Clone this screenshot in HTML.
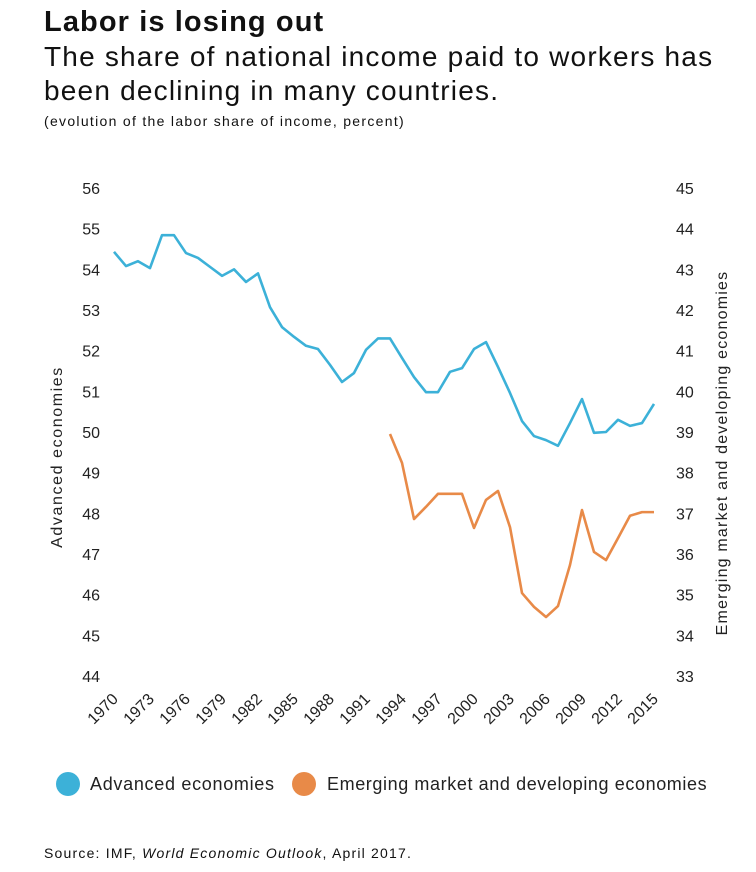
<!DOCTYPE html>
<html><head><meta charset="utf-8"><style>
body{margin:0;background:#fff;width:756px;height:872px;overflow:hidden;font-family:"Liberation Sans",sans-serif;color:#111}
.t{position:absolute;white-space:nowrap}
</style></head><body>
<div class="t" style="left:44px;top:6px;font-size:29px;font-weight:bold;letter-spacing:1.1px">Labor is losing out</div>
<div class="t" style="left:44px;top:40px;font-size:28px;line-height:34px;letter-spacing:1.2px">The share of national income paid to workers has<br>been declining in many countries.</div>
<div class="t" style="left:44px;top:113px;font-size:14px;letter-spacing:1.3px">(evolution of the labor share of income, percent)</div>
<svg id="chart" style="position:absolute;left:0;top:0" width="756" height="872"></svg>
<div class="t" style="left:44px;top:845px;font-size:14px;letter-spacing:1.2px">Source: IMF, <i>World Economic Outlook</i>, April 2017.</div>
<script>
const years=[];for(let y=1970;y<=2015;y++)years.push(y);
const advanced=[54.43,54.08,54.2,54.03,54.84,54.84,54.4,54.28,54.06,53.84,54.0,53.69,53.9,53.07,52.58,52.34,52.12,52.04,51.65,51.23,51.45,52.02,52.3,52.3,51.82,51.35,50.98,50.98,51.48,51.57,52.04,52.21,51.6,50.96,50.27,49.9,49.8,49.66,50.22,50.81,49.98,50.0,50.3,50.15,50.22,50.69];
const emergingYears=[1993,1994,1995,1996,1997,1998,1999,2000,2001,2002,2003,2004,2005,2006,2007,2008,2009,2010,2011,2012,2013,2014,2015];
const emerging=[38.95,38.24,36.86,37.16,37.48,37.48,37.48,36.64,37.33,37.55,36.66,35.04,34.7,34.45,34.72,35.73,37.08,36.05,35.85,36.39,36.94,37.03,37.03];
const leftTicks=[44,45,46,47,48,49,50,51,52,53,54,55,56];
const rightTicks=[33,34,35,36,37,38,39,40,41,42,43,44,45];
const xTickLabels=[1970,1973,1976,1979,1982,1985,1988,1991,1994,1997,2000,2003,2006,2009,2012,2015];
const NS="http://www.w3.org/2000/svg";
const svg=document.getElementById('chart');
const X0=114,X1=654,Y0=188,Y1=676;
const x=y=>X0+(y-1970)*(X1-X0)/45;
const yl=v=>Y1-(v-44)*(Y1-Y0)/12;
const yr=v=>Y1-(v-33)*(Y1-Y0)/12;
function mk(tag,a){const e=document.createElementNS(NS,tag);for(const k in a)e.setAttribute(k,a[k]);svg.appendChild(e);return e;}
leftTicks.forEach(v=>{const t=mk('text',{x:100,y:yl(v)+6,'text-anchor':'end','font-size':16,fill:'#222'});t.textContent=v;

});
rightTicks.forEach(v=>{const t=mk('text',{x:676,y:yr(v)+6,'font-size':16,fill:'#222'});t.textContent=v;

});
xTickLabels.forEach(v=>{const px=x(v)+5,py=700;const t=mk('text',{x:px,y:py,'text-anchor':'end','font-size':16,fill:'#222',transform:`rotate(-45 ${px} ${py})`});t.textContent=v;

});
let t=mk('text',{x:0,y:0,'text-anchor':'middle','font-size':16,fill:'#222','letter-spacing':1.6,transform:`translate(62 457) rotate(-90)`});t.textContent='Advanced economies';


t=mk('text',{x:0,y:0,'text-anchor':'middle','font-size':16,fill:'#222','letter-spacing':1.2,transform:`translate(727 453) rotate(-90)`});t.textContent='Emerging market and developing economies';


let p=mk('polyline',{points:years.map((y,i)=>x(y)+','+yl(advanced[i])).join(' '),fill:'none',stroke:'#3cb1d8','stroke-width':2.6,'stroke-linejoin':'round'});


p=mk('polyline',{points:emergingYears.map((y,i)=>x(y)+','+yr(emerging[i])).join(' '),fill:'none',stroke:'#e88a48','stroke-width':2.6,'stroke-linejoin':'round'});


let c=mk('circle',{cx:68,cy:784,r:12,fill:'#3cb1d8'});


t=mk('text',{x:90,y:790,'font-size':18,fill:'#222','letter-spacing':0.7});t.textContent='Advanced economies';


c=mk('circle',{cx:304,cy:784,r:12,fill:'#e88a48'});


t=mk('text',{x:327,y:790,'font-size':18,fill:'#222','letter-spacing':0.6});t.textContent='Emerging market and developing economies';


</script>
</body></html>
